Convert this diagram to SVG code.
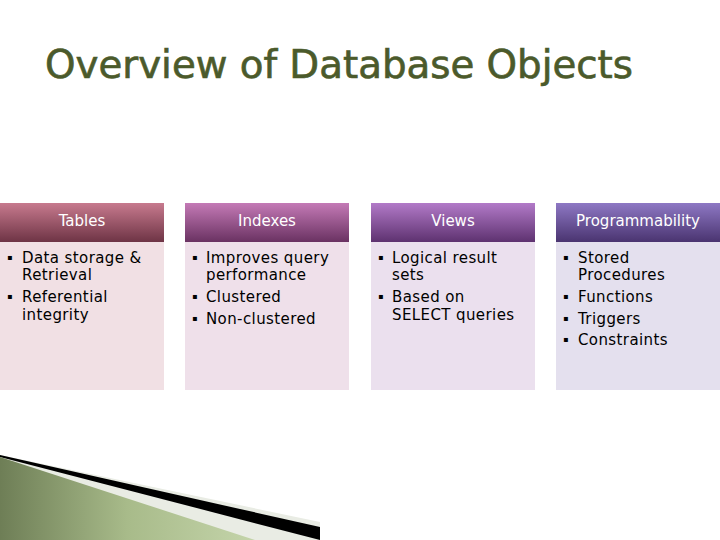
<svg xmlns="http://www.w3.org/2000/svg" width="720" height="540" viewBox="0 0 720 540">
<defs>
<linearGradient id="g1" x1="0" y1="0" x2="0" y2="1"><stop offset="0" stop-color="#c77a8e"/><stop offset="1" stop-color="#6e3445"/></linearGradient>
<linearGradient id="g2" x1="0" y1="0" x2="0" y2="1"><stop offset="0" stop-color="#c47ab6"/><stop offset="1" stop-color="#6a3262"/></linearGradient>
<linearGradient id="g3" x1="0" y1="0" x2="0" y2="1"><stop offset="0" stop-color="#b27ac8"/><stop offset="1" stop-color="#5e3270"/></linearGradient>
<linearGradient id="g4" x1="0" y1="0" x2="0" y2="1"><stop offset="0" stop-color="#8e78c4"/><stop offset="1" stop-color="#4a3470"/></linearGradient>
<linearGradient id="gg" x1="0" y1="0" x2="1" y2="0"><stop offset="0" stop-color="#6e7e56"/><stop offset="0.5" stop-color="#a8bb8a"/><stop offset="1" stop-color="#c4d4aa"/></linearGradient>
</defs>
<style>
.h{font-family:"DejaVu Sans",sans-serif;font-size:15px;fill:#fff;text-anchor:middle}
.b{font-family:"DejaVu Sans",sans-serif;font-size:15px;fill:#000;letter-spacing:0.4px}
.d{font-size:8px}
</style>
<rect width="720" height="540" fill="#fff"/>
<text x="45" y="78" font-family="DejaVu Sans Condensed,DejaVu Sans,sans-serif" font-size="39" fill="#4b5a2b" stroke="#4b5a2b" stroke-width="0.6" textLength="588" lengthAdjust="spacingAndGlyphs">Overview of Database Objects</text>
<g id="tables">
<rect x="0" y="242" width="164" height="148" fill="#f1e0e4"/>
<rect x="0" y="203" width="164" height="39" fill="url(#g1)"/>
<text class="h" x="82" y="226">Tables</text>
<text class="b"><tspan x="7" y="260" class="d">▪</tspan><tspan x="22" y="263">Data storage &amp;</tspan><tspan x="22" y="280">Retrieval</tspan><tspan x="7" y="299" class="d">▪</tspan><tspan x="22" y="302">Referential</tspan><tspan x="22" y="320">integrity</tspan></text>
</g>
<g id="indexes">
<rect x="185" y="242" width="164" height="148" fill="#efe0ea"/>
<rect x="185" y="203" width="164" height="39" fill="url(#g2)"/>
<text class="h" x="267" y="226">Indexes</text>
<text class="b"><tspan x="192" y="260" class="d">▪</tspan><tspan x="206" y="263">Improves query</tspan><tspan x="206" y="280">performance</tspan><tspan x="192" y="299" class="d">▪</tspan><tspan x="206" y="302">Clustered</tspan><tspan x="192" y="321" class="d">▪</tspan><tspan x="206" y="324">Non-clustered</tspan></text>
</g>
<g id="views">
<rect x="371" y="242" width="164" height="148" fill="#ebe0ee"/>
<rect x="371" y="203" width="164" height="39" fill="url(#g3)"/>
<text class="h" x="453" y="226">Views</text>
<text class="b"><tspan x="378" y="260" class="d">▪</tspan><tspan x="392" y="263">Logical result</tspan><tspan x="392" y="280">sets</tspan><tspan x="378" y="299" class="d">▪</tspan><tspan x="392" y="302">Based on</tspan><tspan x="392" y="320">SELECT queries</tspan></text>
</g>
<g id="programmability">
<rect x="556" y="242" width="164" height="148" fill="#e4e0ee"/>
<rect x="556" y="203" width="164" height="39" fill="url(#g4)"/>
<text class="h" x="638" y="226">Programmability</text>
<text class="b"><tspan x="563" y="260" class="d">▪</tspan><tspan x="578" y="263">Stored</tspan><tspan x="578" y="280">Procedures</tspan><tspan x="563" y="299" class="d">▪</tspan><tspan x="578" y="302">Functions</tspan><tspan x="563" y="321" class="d">▪</tspan><tspan x="578" y="324">Triggers</tspan><tspan x="563" y="342" class="d">▪</tspan><tspan x="578" y="345">Constraints</tspan></text>
</g>
<g id="connectors"/>
<polygon points="0,455 320,522 320,540 0,540" fill="#e9ece4"/>
<polygon points="0,455 320,527 320,540 0,457" fill="#000"/>
<polygon points="0,457 255,540 0,540" fill="url(#gg)"/>
</svg>
